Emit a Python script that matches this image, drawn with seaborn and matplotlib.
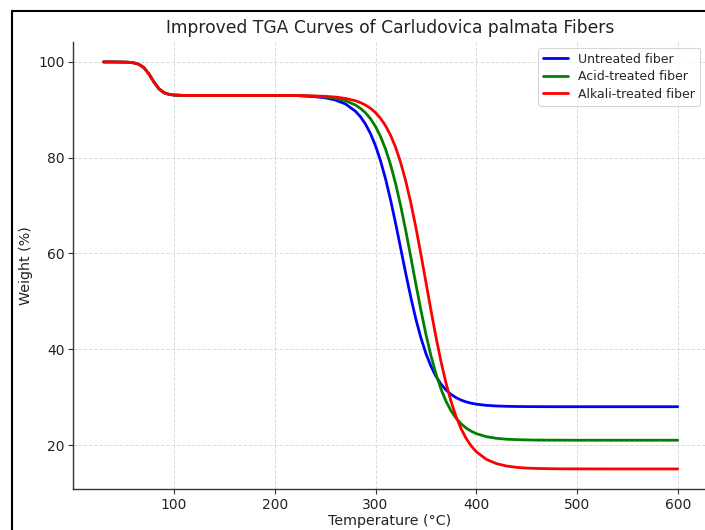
import matplotlib
matplotlib.use("Agg")
import matplotlib.pyplot as plt
from matplotlib.lines import Line2D
import seaborn as sns
import pandas as pd

temperature = [30, 40, 50, 55, 60, 65, 70, 75, 80, 85, 90, 95, 100, 110, 120, 140, 160, 180, 200, 220,
               240, 250, 260, 270, 280, 285, 290, 295, 300, 305, 310, 315, 320, 325, 330, 335, 340, 345,
               350, 355, 360, 365, 370, 375, 380, 385, 390, 395, 400, 410, 420, 430, 440, 450, 460, 480,
               500, 550, 600]

low_part = [100.0, 100.0, 99.97, 99.93, 99.81, 99.52, 98.82, 97.52, 95.81, 94.39, 93.58, 93.23, 93.09,
            93.01, 93.0, 93.0, 93.0, 93.0, 93.0, 93.0]

untreated = low_part + [92.74, 92.51, 92.06, 91.24, 89.72, 88.56, 87.02, 85.03, 82.48, 79.32, 75.52,
                        71.10, 66.21, 61.02, 55.81, 50.85, 46.32, 42.39, 39.10, 36.44, 34.34, 32.71,
                        31.49, 30.56, 29.88, 29.37, 29.00, 28.73, 28.53, 28.28, 28.15, 28.08, 28.04,
                        28.02, 28.01, 28.0, 28.0, 28.0, 28.0]

acid = low_part + [92.83, 92.69, 92.42, 91.92, 91.01, 90.31, 89.38, 88.14, 86.51, 84.42, 81.76, 78.47,
                   74.51, 69.90, 64.75, 59.25, 53.63, 48.18, 43.13, 38.65, 34.82, 31.66, 29.12, 27.13,
                   25.59, 24.41, 23.53, 22.87, 22.38, 21.74, 21.40, 21.21, 21.12, 21.06, 21.03, 21.01,
                   21.0, 21.0, 21.0]

alkali = low_part + [92.90, 92.82, 92.67, 92.39, 91.90, 91.51, 91.00, 90.31, 89.41, 88.21, 86.65, 84.65,
                     82.11, 78.94, 75.11, 70.60, 65.47, 59.86, 54.00, 48.14, 42.53, 37.40, 32.89, 29.06,
                     25.89, 23.35, 21.35, 19.79, 18.59, 17.00, 16.11, 15.61, 15.33, 15.18, 15.10, 15.03,
                     15.01, 15.0, 15.0]

series_names = ["Untreated fiber", "Acid-treated fiber", "Alkali-treated fiber"]
series_colors = ["#0000ff", "#008000", "#ff0000"]

frames = []
for name, vals in zip(series_names, [untreated, acid, alkali]):
    frames.append(pd.DataFrame({"Temperature": temperature, "Weight": vals, "Sample": name}))
df = pd.concat(frames, ignore_index=True)

sns.set_style("white")
plt.rcParams["font.family"] = ["DejaVu Sans"]

fig = plt.figure(figsize=(7.05, 5.3), dpi=100)
W, H = 705, 530
ax = fig.add_axes([73.3 / W, (H - 489.3) / H, (706.5 - 73.3) / W, (489.3 - 41.6) / H])

sns.lineplot(data=df, x="Temperature", y="Weight", hue="Sample", hue_order=series_names,
             palette=dict(zip(series_names, series_colors)), estimator=None, linewidth=2,
             ax=ax, sort=False)

ax.set_xlim(0, 628.5)
ax.set_ylim(10.75, 104.25)
ax.set_xticks([100, 200, 300, 400, 500, 600])
ax.set_yticks([20, 40, 60, 80, 100])
ax.grid(True, linestyle="--", color="#cccccc", linewidth=0.7, alpha=0.7)
ax.set_axisbelow(True)

for side in ["top", "right"]:
    ax.spines[side].set_visible(False)
for side in ["left", "bottom"]:
    ax.spines[side].set_color("#333333")
    ax.spines[side].set_linewidth(1.0)
ax.tick_params(axis="both", which="major", direction="out", length=3.5, width=0.8,
               colors="#333333", labelsize=10, labelcolor="#222222", bottom=True, left=True,
               pad=2.5)

ax.set_title("Improved TGA Curves of Carludovica palmata Fibers", fontsize=12.3, color="#222222")
ax.set_xlabel("Temperature (°C)", fontsize=10.3, color="#222222", labelpad=1.5)
ax.set_ylabel("Weight (%)", fontsize=10.3, color="#222222", labelpad=4)

leg = ax.legend(loc="upper right", fontsize=9, frameon=True, fancybox=True,
                handlelength=2.0, borderpad=0.4, labelspacing=0.35)
leg.get_frame().set_edgecolor("#cccccc")
leg.get_frame().set_linewidth(0.8)
leg.set_title(None)

# screenshot frame lines
fig.add_artist(Line2D([12 / W, 12 / W], [0, 1 - 11 / H], transform=fig.transFigure,
                      color="black", linewidth=1.5))
fig.add_artist(Line2D([12 / W, 1], [1 - 11 / H, 1 - 11 / H], transform=fig.transFigure,
                      color="black", linewidth=1.5))

fig.savefig("out.png", dpi=100)
